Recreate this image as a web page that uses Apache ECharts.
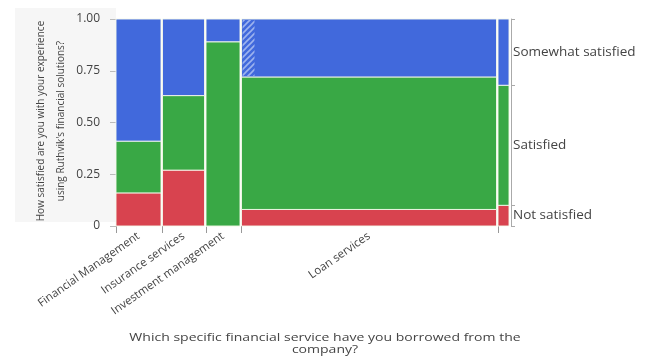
<!DOCTYPE html>
<html>
<head>
    <meta charset="UTF-8">
    <title>Mosaic - satisfaction by service</title>
    <script src="https://cdn.jsdelivr.net/npm/echarts@6/dist/echarts.min.js"></script>
    <style>
        html, body { margin: 0; padding: 0; background: #fff; }
        #main { width: 649px; height: 358px; }
    </style>
</head>
<body>
<div id="main"></div>
<script>
    // 数据
    var services = ['Financial Management', 'Insurance services', 'Investment management', 'Loan services', ''];
    var serviceShare = [45, 42, 34, 255, 11];           // column widths (relative counts)
    var levels = ['Not satisfied', 'Satisfied', 'Somewhat satisfied'];
    var notSatisfied = [0.16, 0.27, 0.00, 0.08, 0.10];
    var satisfied = [0.25, 0.36, 0.89, 0.64, 0.58];
    var somewhatSatisfied = [0.59, 0.37, 0.11, 0.28, 0.32];

    var colors = ['#d8434f', '#39a845', '#4169dc'];
    var gap = 1.5;
    var shares = [notSatisfied, satisfied, somewhatSatisfied];

    // column starts
    var starts = [], pos = 0;
    serviceShare.forEach(function (w) {
        starts.push(pos);
        pos += w + gap;
    });
    var xMax = pos - gap + 2;
    var mids = starts.map(function (s, i) { return s + serviceShare[i] / 2; });

    var rects = [];
    services.forEach(function (name, c) {
        var y = 0;
        shares.forEach(function (arr, l) {
            rects.push([starts[c], starts[c] + serviceShare[c], y, y + arr[c], l]);
            y += arr[c];
        });
    });

    // right axis: boundaries and mids of last column
    var last = services.length - 1;
    var rBounds = [0], rMids = [], acc = 0;
    shares.forEach(function (arr) {
        rMids.push(acc + arr[last] / 2);
        acc += arr[last];
        rBounds.push(acc);
    });

    function nearest(list, v) {
        var best = 0;
        list.forEach(function (m, i) { if (Math.abs(m - v) < Math.abs(list[best] - v)) best = i; });
        return best;
    }

    // hatch pattern
    var pc = document.createElement('canvas');
    pc.width = 6; pc.height = 6;
    var ctx = pc.getContext('2d');
    ctx.fillStyle = '#4169dc'; ctx.fillRect(0, 0, 6, 6);
    ctx.strokeStyle = '#9db3ee'; ctx.lineWidth = 1.6;
    ctx.beginPath(); ctx.moveTo(0, 6); ctx.lineTo(6, 0); ctx.moveTo(-3, 3); ctx.lineTo(3, -3); ctx.moveTo(3, 9); ctx.lineTo(9, 3); ctx.stroke();

    var myChart = echarts.init(document.getElementById('main'));
    var option = {
        animation: false,
        grid: {left: 116, right: 138, top: 19, bottom: 132},
        graphic: [
            {type: 'rect', z: -10, shape: {x: 15, y: 8, width: 101, height: 214}, style: {fill: '#f6f6f6'}},
            {type: 'text', x: 41, y: 121, rotation: Math.PI / 2, style: {text: 'How satisfied are you with your experience', fontSize: 10, fontFamily: 'Open Sans', fill: '#444', align: 'center', verticalAlign: 'middle'}},
            {type: 'text', x: 61, y: 121, rotation: Math.PI / 2, style: {text: "using Ruthvik's financial solutions?", fontSize: 10, fontFamily: 'Open Sans', fill: '#444', align: 'center', verticalAlign: 'middle'}},
            {type: 'text', x: 325, y: 344, scaleX: 1.22, originX: 0, style: {text: 'Which specific financial service have you borrowed from the\ncompany?', fontSize: 11.5, lineHeight: 12, fontFamily: 'Open Sans', fill: '#444', align: 'center', verticalAlign: 'middle'}}
        ],
        xAxis: {
            type: 'value', min: 0, max: xMax,
            axisLine: {show: false},
            splitLine: {show: false},
            axisTick: {show: true, length: 7, customValues: starts, lineStyle: {color: '#999'}},
            axisLabel: {
                customValues: mids, rotate: 35, fontSize: 11.5, color: '#444', fontFamily: 'Open Sans', margin: 9,
                formatter: function (v) { return services[nearest(mids, v)]; }
            }
        },
        yAxis: [
            {
                type: 'value', min: 0, max: 1, interval: 0.25,
                axisLine: {show: false},
                splitLine: {show: false},
                axisTick: {show: true, length: 6, lineStyle: {color: '#bbb'}},
                axisLabel: {
                    fontSize: 12, color: '#444', fontFamily: 'Open Sans', margin: 16,
                    formatter: function (v) { return v === 0 ? '0' : v.toFixed(2); }
                }
            },
            {
                type: 'value', min: 0, max: 1, position: 'right',
                axisLine: {show: true, lineStyle: {color: '#aaa'}},
                splitLine: {show: false},
                axisTick: {show: true, length: 4, customValues: rBounds, lineStyle: {color: '#aaa'}},
                axisLabel: {
                    customValues: rMids, fontSize: 13.5, color: '#444', fontFamily: 'Open Sans', margin: 2,
                    formatter: function (v) { return levels[nearest(rMids, v)]; }
                }
            }
        ],
        series: [{
            type: 'custom',
            data: rects,
            encode: {x: [0, 1], y: [2, 3]},
            renderItem: function (params, api) {
                var p0 = api.coord([api.value(0), api.value(3)]);
                var p1 = api.coord([api.value(1), api.value(2)]);
                var lvl = api.value(4);
                var children = [{
                    type: 'rect',
                    shape: {x: p0[0], y: p0[1], width: p1[0] - p0[0], height: p1[1] - p0[1]},
                    style: {fill: colors[lvl], stroke: 'rgba(245,250,235,0.9)', lineWidth: 1}
                }];
                // hatched strip in the loan column top block
                if (params.dataIndex === 3 * 3 + 2) {
                    children.push({
                        type: 'rect',
                        shape: {x: p0[0] + 1, y: p0[1] + 1, width: 12, height: p1[1] - p0[1] - 2},
                        style: {fill: {image: pc, repeat: 'repeat'}}
                    });
                }
                return {type: 'group', children: children};
            }
        }]
    };
    myChart.setOption(option);
</script>
</body>
</html>
